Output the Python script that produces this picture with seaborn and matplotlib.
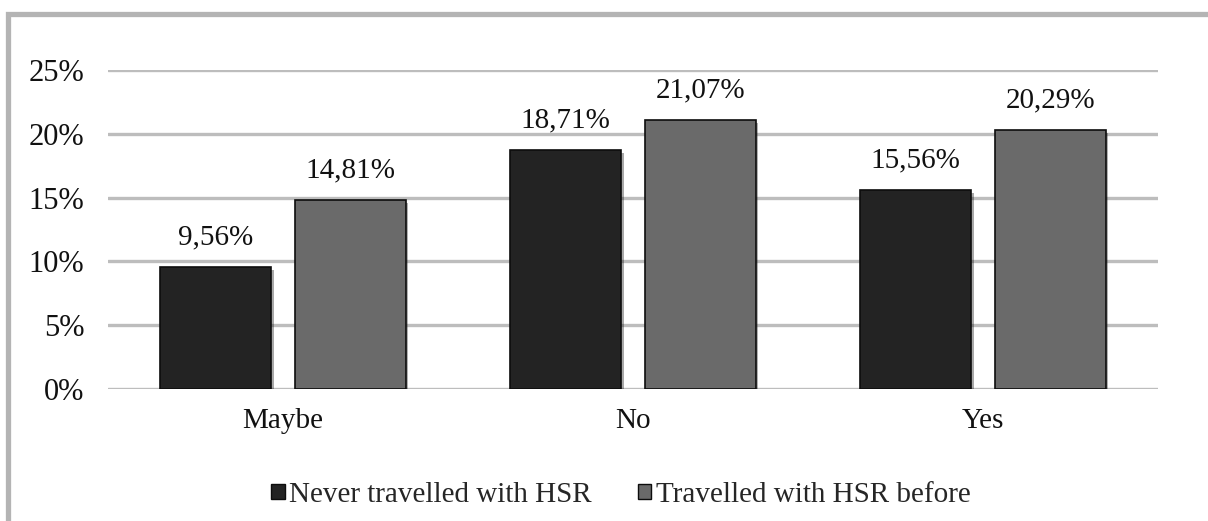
import matplotlib
matplotlib.use("Agg")
import matplotlib.pyplot as plt
import matplotlib.patheffects as pe
from matplotlib.patches import Rectangle
import seaborn as sns
import pandas as pd

categories = ["Maybe", "No", "Yes"]
series_names = ["Never travelled with HSR", "Travelled with HSR before"]
never_vals = [9.56, 18.71, 15.56]
travelled_vals = [14.81, 21.07, 20.29]
yticks = [0, 5, 10, 15, 20, 25]
ytick_labels = ["0%", "5%", "10%", "15%", "20%", "25%"]

colors = ["#232323", "#6a6a6a"]

df = pd.DataFrame({
    "category": categories * 2,
    "series": [series_names[0]] * 3 + [series_names[1]] * 3,
    "value": never_vals + travelled_vals,
})

sns.set_theme(style="white")
plt.rcParams["font.family"] = ["Liberation Serif", "DejaVu Serif"]

fig = plt.figure(figsize=(12.08, 5.21), dpi=100)
ax = fig.add_axes([108 / 1208, 1 - 389 / 521, 1050 / 1208, (389 - 70) / 521])

sns.barplot(data=df, x="category", y="value", hue="series", order=categories,
            hue_order=series_names, palette=colors, width=0.77, ax=ax,
            saturation=1, legend=False, edgecolor="#0d0d0d", linewidth=1.2)

# shrink bars to leave a gap between them
for p in ax.patches:
    c = p.get_x() + p.get_width() / 2
    w = 0.316
    p.set_width(w)
    p.set_x(c - w / 2)
    p.set_path_effects([pe.SimplePatchShadow(offset=(2, -2), alpha=0.35), pe.Normal()])

for cont, vals in zip(ax.containers, [never_vals, travelled_vals]):
    ax.bar_label(cont, labels=[f"{v:.2f}%".replace(".", ",") for v in vals],
                 padding=12, fontsize=21, color="#111111")

ax.set_ylim(0, 25)
ax.set_xlim(-0.5, 2.5)
ax.set_yticks(yticks)
ax.set_yticklabels(ytick_labels)
ax.yaxis.grid(True, color="#bdbdbd", linewidth=2.4)
ax.set_axisbelow(True)
for s in ax.spines.values():
    s.set_visible(False)
ax.tick_params(axis="y", length=0, pad=17, labelsize=22, labelcolor="#111111")
ax.tick_params(axis="x", length=0, pad=14, labelsize=21, labelcolor="#111111")
ax.set_xlabel("")
ax.set_ylabel("")

handles = [Rectangle((0, 0), 1, 1, facecolor=colors[i], edgecolor="#0d0d0d", linewidth=1)
           for i in range(2)]
fig.legend(handles, series_names, loc="center", bbox_to_anchor=(0.514, 0.05),
           ncol=2, frameon=False, fontsize=21, handlelength=0.45, handleheight=0.45,
           handletextpad=0.15, columnspacing=1.6)

# outer chart border (only top and left visible)
fig.patches.append(Rectangle((8 / 1208, -0.2), 1.2, 1.2 - 14 / 521,
                             transform=fig.transFigure, fill=False,
                             edgecolor="#b4b4b4", linewidth=3.8, figure=fig))

fig.savefig("out.png", dpi=100)
